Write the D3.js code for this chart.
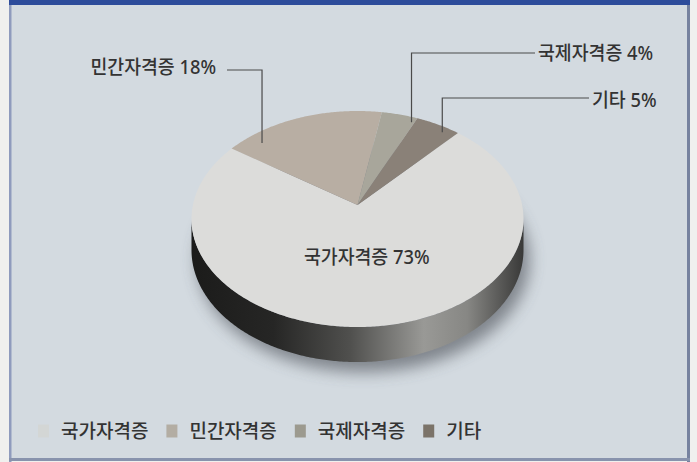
<!DOCTYPE html>
<html>
<head>
<meta charset="utf-8">
<script src="https://cdn.jsdelivr.net/npm/d3@7"></script>
<style>
  html, body { margin: 0; padding: 0; background: #ffffff; }
  svg { display: block; }
  text { font-family: "Noto Sans", "Noto Sans CJK KR", sans-serif; fill: #333333; font-weight: 500; }
</style>
</head>
<body>
<svg id="chart" width="697" height="462"></svg>
<script>
// ---- data ----
const categories = ["국가자격증", "민간자격증", "국제자격증", "기타"];
const shares = [73, 18, 4, 5];
const sliceColors = ["#dcdcda", "#b8aea3", "#a8a69b", "#8a8178"];
const legendColors = ["#d3d6d5", "#b3ada3", "#9c9a8f", "#7b7369"];

// ---- page ----
const W = 697, H = 462;
const svg = d3.select("#chart");
const defs = svg.append("defs");

// panel and its frame
svg.append("rect").attr("width", W).attr("height", H).attr("fill", "#f0f0ee");
svg.append("rect").attr("x", 10).attr("y", 0).attr("width", 678).attr("height", 459).attr("fill", "#d3dae0");
svg.append("rect").attr("x", 9).attr("y", 0).attr("width", 2.5).attr("height", 462).attr("fill", "#8f9bbd");
svg.append("rect").attr("x", 687).attr("y", 0).attr("width", 3).attr("height", 462).attr("fill", "#76829f");
svg.append("rect").attr("x", 9).attr("y", 0).attr("width", 681).attr("height", 5).attr("fill", "#2d4c9b");
svg.append("rect").attr("x", 9).attr("y", 458).attr("width", 681).attr("height", 3).attr("fill", "#8893ad");

// ---- perspective disc projection ----
// angle measured clockwise from the far side of the disc, r in [0,1]
const X0 = 357.5, Y0 = 205, RX = 164.6, RY = 106.2, PERSP = 0.1296, DEPTH = 30.5;
function project(angle, r, drop = 0) {
  const u = Math.sin(angle) * r, d = Math.cos(angle) * r, w = 1 + PERSP * d;
  return [X0 + RX * u / w, Y0 - RY * d / w + drop / w];
}
function rim(a0, a1, drop = 0) {
  const n = Math.max(2, Math.ceil(Math.abs(a1 - a0) / 0.01));
  return d3.range(n + 1).map(i => project(a0 + (a1 - a0) * i / n, 1, drop));
}
const line = d3.line();

const pie = d3.pie().sort(null)
  .startAngle(42 * Math.PI / 180)
  .endAngle(42 * Math.PI / 180 + 2 * Math.PI);
const arcs = pie(shares);

// soft shadow beneath the disc
const blur = defs.append("filter").attr("id", "soft").attr("x", "-20%").attr("y", "-20%").attr("width", "140%").attr("height", "140%");
blur.append("feGaussianBlur").attr("stdDeviation", 8);
svg.append("path")
  .attr("d", line(rim(0, 2 * Math.PI, DEPTH)) + "Z")
  .attr("transform", "translate(6,10)")
  .attr("fill", "#474c52").attr("opacity", 0.6)
  .attr("filter", "url(#soft)");

// side wall of the main slice (front half, between the silhouette points)
const sideGrad = defs.append("linearGradient").attr("id", "side")
  .attr("gradientUnits", "userSpaceOnUse").attr("x1", 190).attr("x2", 524).attr("y1", 0).attr("y2", 0);
[[0, "#1b1b1a"], [0.25, "#262625"], [0.48, "#50504e"], [0.7, "#999996"], [0.83, "#878784"], [1, "#383837"]]
  .forEach(([o, c]) => sideGrad.append("stop").attr("offset", o).attr("stop-color", c));

const big = arcs[0];
const sA0 = Math.max(big.startAngle, Math.acos(-PERSP));
const sA1 = Math.min(big.endAngle, 2 * Math.PI - Math.acos(-PERSP));
const sidePts = rim(sA0, sA1).concat(rim(sA1, sA0, DEPTH));
svg.append("path").attr("d", line(sidePts) + "Z").attr("fill", "url(#side)");

// top faces
svg.append("g").selectAll("path")
  .data(arcs)
  .join("path")
  .attr("d", d => line([project(0, 0)].concat(rim(d.startAngle, d.endAngle))) + "Z")
  .attr("fill", (d, i) => sliceColors[i]);

// ---- labels ----
// slightly narrowed type, as in the printed call-outs
const labelFont = 19.5, narrow = 0.94;
function label(sel, x, y, anchor, str) {
  return sel.append("text")
    .attr("transform", `translate(${x},${y}) scale(${narrow},1)`)
    .attr("text-anchor", anchor).attr("dominant-baseline", "central")
    .attr("font-size", labelFont)
    .text(str);
}
const bigMid = (big.startAngle + big.endAngle) / 2;
const [bx, by] = project(bigMid, 0.46);
label(svg, bx, by, "middle", `${categories[0]} ${shares[0]}%`);

// call-outs for the small slices: leader drops from inside the slice, then runs across to the text
const callouts = [
  { i: 1, t: 0.16, r: 0.89, lineY: 70, textX: 216, textY: 67, side: "left" },
  { i: 2, t: 0.92, r: 0.94, lineY: 53, textX: 538, textY: 53, side: "right" },
  { i: 3, t: 0.72, r: 0.94, lineY: 98, textX: 592, textY: 99.5, side: "right" }
];
const cg = svg.append("g");
callouts.forEach(c => {
  const a = arcs[c.i];
  const [ax, ay] = project(a.startAngle + (a.endAngle - a.startAngle) * c.t, c.r);
  const endX = c.side === "left" ? c.textX + 11 : c.textX - 3;
  cg.append("path")
    .attr("d", line([[ax, ay], [ax, c.lineY], [endX, c.lineY]]))
    .attr("fill", "none").attr("stroke", "#4a4a4a").attr("stroke-width", 1.2);
  label(cg, c.textX, c.textY, c.side === "left" ? "end" : "start", `${categories[c.i]} ${shares[c.i]}%`);
});

// ---- legend ----
const legend = svg.append("g").attr("transform", "translate(38,431)");
let lx = 0;
categories.forEach((name, i) => {
  legend.append("rect").attr("x", lx).attr("y", -6.5).attr("width", 11).attr("height", 13).attr("fill", legendColors[i]);
  lx += 23;
  const t = legend.append("text").attr("x", lx).attr("y", 0)
    .attr("dominant-baseline", "central").attr("font-size", 19).text(name);
  lx += t.node().getComputedTextLength() + 18;
});
</script>
</body>
</html>
